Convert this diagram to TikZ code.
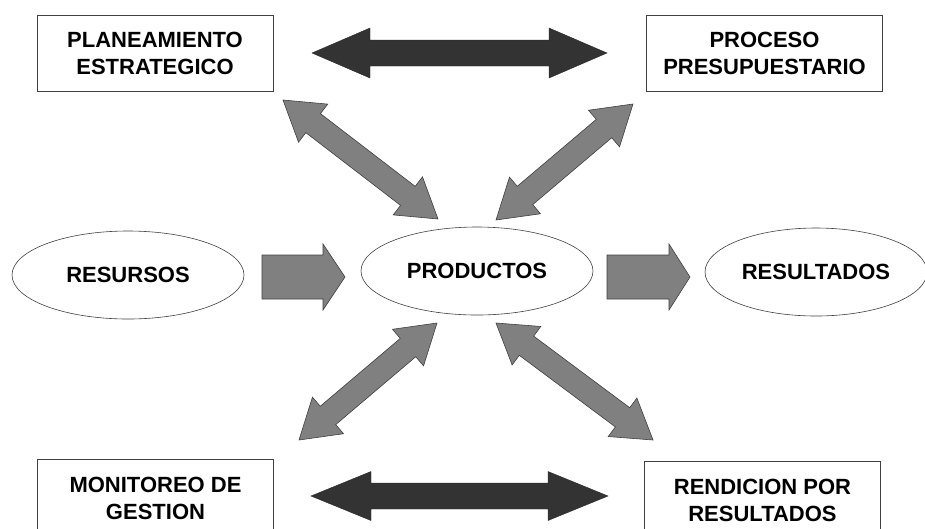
\documentclass[tikz,border=0pt]{standalone}
\usepackage{fontspec}
\setmainfont{Liberation Sans}
\usetikzlibrary{calc,shapes.geometric}
\definecolor{arrgray}{HTML}{808080}
\definecolor{arrdark}{HTML}{333333}
\definecolor{edgegray}{HTML}{404040}
% double block arrow: #1 tip A, #2 tip B, #3 shaft half width, #4 head half width, #5 head length, #6 style
\newcommand{\dblblockarrow}[6]{%
  \coordinate (ha) at ($(#1)!#5!(#2)$);
  \coordinate (hb) at ($(#2)!#5!(#1)$);
  \filldraw[#6] (#1) -- ($(ha)!#4!90:(#2)$) -- ($(ha)!#3!90:(#2)$)
    -- ($(hb)!#3!-90:(#1)$) -- ($(hb)!#4!-90:(#1)$) -- (#2)
    -- ($(hb)!#4!90:(#1)$) -- ($(hb)!#3!90:(#1)$)
    -- ($(ha)!#3!-90:(#2)$) -- ($(ha)!#4!-90:(#2)$) -- cycle;
}
% single block arrow: #1 tail, #2 tip
\newcommand{\oneblockarrow}[6]{%
  \coordinate (hb) at ($(#2)!#5!(#1)$);
  \filldraw[#6] ($(#1)!#3!90:(#2)$) -- ($(hb)!#3!-90:(#1)$) -- ($(hb)!#4!-90:(#1)$) -- (#2)
    -- ($(hb)!#4!90:(#1)$) -- ($(hb)!#3!90:(#1)$) -- ($(#1)!#3!-90:(#2)$) -- cycle;
}
\begin{document}
\begin{tikzpicture}[x=1pt,y=-1pt,
  box/.style={draw=edgegray, line width=0.8pt, fill=white, rectangle,
    minimum width=236pt, minimum height=76pt, align=center, inner sep=0pt,
    font=\fontsize{22}{27}\selectfont\bfseries},
  oval/.style={draw=black!75, line width=0.6pt, ellipse, fill=white,
    minimum width=232pt, minimum height=88pt, inner sep=0pt,
    font=\fontsize{22}{25}\selectfont\bfseries},
  grayarrow/.style={fill=arrgray, draw=edgegray, line width=0.6pt, line join=miter},
  darkarrow/.style={fill=arrdark, draw=black!85, line width=0.4pt, line join=miter}]
\useasboundingbox (0,0) rectangle (925,528);
\clip (0,0) rectangle (925,528);
\fill[white] (0,0) rectangle (925,528);

% boxes
\node[box] (plan) at (155,53) {PLANEAMIENTO\\ESTRATEGICO};
\node[box] (proc) at (764.5,53) {PROCESO\\PRESUPUESTARIO};
\node[box, minimum height=78pt] (moni) at (155.5,498) {MONITOREO DE\\GESTION};
\node[box, minimum height=78pt] (rend) at (762.5,500) {RENDICION POR\\RESULTADOS};

% ellipses
\node[oval] (recu) at (128,275) {RESURSOS};
\node[oval] (prod) at (477,271) {PRODUCTOS};
\node[oval, minimum width=222pt] (resu) at (816,272) {RESULTADOS};

% arrow end points
\coordinate (topL) at (312,53);
\coordinate (topR) at (607,53);
\coordinate (botL) at (311,496);
\coordinate (botR) at (608,496);
\coordinate (ulA) at (283,100);
\coordinate (ulB) at (438,219);
\coordinate (urA) at (633,104);
\coordinate (urB) at (496,220);
\coordinate (llA) at (437,323);
\coordinate (llB) at (299,440);
\coordinate (lrA) at (496,323);
\coordinate (lrB) at (653,440);
\coordinate (h1A) at (262,277);
\coordinate (h1B) at (345,277);
\coordinate (h2A) at (607,277);
\coordinate (h2B) at (690,277);

% dark horizontal double arrows
\dblblockarrow{topL}{topR}{13pt}{25pt}{58pt}{darkarrow}
\dblblockarrow{botL}{botR}{13pt}{24.5pt}{60pt}{darkarrow}

% gray diagonal double arrows
\dblblockarrow{ulA}{ulB}{12pt}{24pt}{38pt}{grayarrow}
\dblblockarrow{urA}{urB}{12pt}{24pt}{38pt}{grayarrow}
\dblblockarrow{llA}{llB}{12pt}{24pt}{38pt}{grayarrow}
\dblblockarrow{lrA}{lrB}{12pt}{24pt}{38pt}{grayarrow}

% gray horizontal single arrows
\oneblockarrow{h1A}{h1B}{22pt}{33pt}{22pt}{grayarrow}
\oneblockarrow{h2A}{h2B}{22pt}{33pt}{21pt}{grayarrow}
\end{tikzpicture}
\end{document}
